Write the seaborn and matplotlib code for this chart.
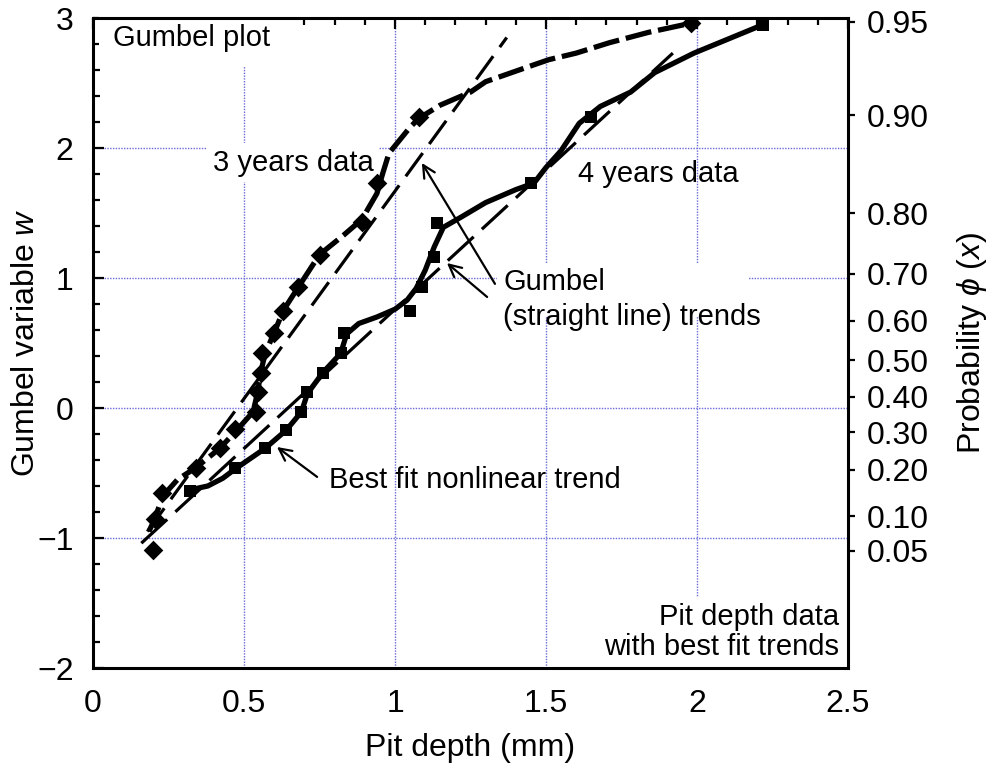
import numpy as np
import matplotlib

matplotlib.use("Agg")
import matplotlib.pyplot as plt
import seaborn as sns
from matplotlib.ticker import FixedLocator, FuncFormatter, MultipleLocator

# 3 years data (diamonds) and its best-fit nonlinear trend
years3_depth = [0.20, 0.205, 0.23, 0.34, 0.42, 0.47, 0.54, 0.545, 0.555,
                0.56, 0.60, 0.63, 0.68, 0.75, 0.89, 0.94, 1.08, 1.98]
years3_w = [-1.09, -0.85, -0.65, -0.46, -0.31, -0.16, -0.03, 0.12, 0.27,
            0.42, 0.58, 0.75, 0.93, 1.18, 1.43, 1.73, 2.24, 2.96]
curve3_depth = [0.185, 0.205, 0.23, 0.28, 0.34, 0.42, 0.48, 0.53, 0.545, 0.555,
                0.57, 0.60, 0.63, 0.68, 0.75, 0.83, 0.89, 0.94, 0.96, 0.98,
                1.05, 1.08, 1.15, 1.25, 1.30, 1.46, 1.51, 1.60, 1.71, 1.84, 1.98]
curve3_w = [-0.95, -0.85, -0.68, -0.55, -0.46, -0.31, -0.16, -0.03, 0.12, 0.27,
            0.42, 0.58, 0.75, 0.93, 1.18, 1.33, 1.45, 1.65, 1.81, 1.96,
            2.16, 2.23, 2.33, 2.43, 2.51, 2.64, 2.68, 2.73, 2.81, 2.89, 2.96]

# 4 years data (squares) and its best-fit nonlinear trend
years4_depth = [0.32, 0.47, 0.57, 0.64, 0.69, 0.71, 0.76, 0.82, 0.83,
                1.05, 1.09, 1.13, 1.14, 1.45, 1.65, 2.22]
years4_w = [-0.64, -0.46, -0.31, -0.17, -0.03, 0.12, 0.27, 0.42, 0.58,
            0.75, 0.93, 1.16, 1.42, 1.73, 2.24, 2.95]
curve4_depth = [0.32, 0.38, 0.43, 0.47, 0.57, 0.64, 0.69, 0.71, 0.76, 0.82,
                0.84, 0.88, 0.94, 1.00, 1.04, 1.07, 1.10, 1.13, 1.16, 1.22,
                1.30, 1.40, 1.46, 1.50, 1.55, 1.61, 1.68, 1.78, 1.86, 1.99, 2.22]
curve4_w = [-0.63, -0.60, -0.54, -0.47, -0.31, -0.17, -0.03, 0.11, 0.27, 0.42,
            0.57, 0.65, 0.70, 0.76, 0.83, 0.92, 1.06, 1.24, 1.39, 1.47,
            1.58, 1.68, 1.73, 1.85, 1.98, 2.19, 2.32, 2.43, 2.58, 2.73, 2.95]

# Gumbel straight-line trends (end points)
gumbel3_depth = [0.18, 1.37]
gumbel3_w = [-0.95, 2.85]
gumbel4_depth = [0.16, 1.92]
gumbel4_w = [-1.04, 2.73]

# right axis probability labels
prob_labels = [0.05, 0.10, 0.20, 0.30, 0.40, 0.50, 0.60, 0.70, 0.80, 0.90, 0.95]

GRID_COLOR = "#6a6ad8"
TICK_SIZE = 23
LABEL_SIZE = 23
NOTE_SIZE = 21

sns.set_theme(style="white")
plt.rcParams["font.family"] = ["Liberation Sans", "DejaVu Sans"]
plt.rcParams["mathtext.fontset"] = "custom"
plt.rcParams["mathtext.rm"] = "Liberation Sans"
plt.rcParams["mathtext.it"] = "Liberation Sans:italic"
plt.rcParams["text.color"] = "black"
plt.rcParams["axes.labelcolor"] = "black"
plt.rcParams["xtick.color"] = "black"
plt.rcParams["ytick.color"] = "black"

fig, ax = plt.subplots(figsize=(9.96, 7.63), dpi=100)
fig.subplots_adjust(left=0.0934, right=0.8514, top=0.9764, bottom=0.1245)

# straight Gumbel trends
sns.lineplot(x=gumbel3_depth, y=gumbel3_w, ax=ax, color="black", lw=2.3,
             linestyle=(0, (9, 3.5)), sort=False, estimator=None, zorder=3)
sns.lineplot(x=gumbel4_depth, y=gumbel4_w, ax=ax, color="black", lw=2.3,
             linestyle=(0, (11, 3.5)), sort=False, estimator=None, zorder=3)

# nonlinear trends
sns.lineplot(x=curve3_depth, y=curve3_w, ax=ax, color="black", lw=3.8,
             linestyle=(0, (5, 1.3)), sort=False, estimator=None, zorder=4)
sns.lineplot(x=curve4_depth, y=curve4_w, ax=ax, color="black", lw=3.8,
             sort=False, estimator=None, zorder=4)

# data points
sns.scatterplot(x=years3_depth, y=years3_w, ax=ax, marker="D", s=100,
                color="black", edgecolor="black", linewidth=0, zorder=5)
sns.scatterplot(x=years4_depth, y=years4_w, ax=ax, marker="s", s=85,
                color="black", edgecolor="black", linewidth=0, zorder=5)

ax.set_xlim(0, 2.5)
ax.set_ylim(-2, 3)
ax.xaxis.set_major_locator(MultipleLocator(0.5))
ax.xaxis.set_minor_locator(MultipleLocator(0.1))
ax.yaxis.set_major_locator(MultipleLocator(1))
ax.yaxis.set_minor_locator(MultipleLocator(0.2))
ax.xaxis.set_major_formatter(FuncFormatter(lambda v, _: f"{v:g}"))
ax.yaxis.set_major_formatter(FuncFormatter(lambda v, _: f"{v:g}".replace("-", "\u2212")))

ax.grid(True, which="major", color=GRID_COLOR, linestyle=(0, (1, 1)), lw=1.0)
ax.set_axisbelow(True)

for spine in ax.spines.values():
    spine.set_linewidth(2.2)
    spine.set_color("black")

ax.tick_params(which="both", direction="in", top=True, right=True,
               labelright=False, color="black", width=1.6)
ax.tick_params(which="major", length=8, labelsize=TICK_SIZE, pad=14)
ax.tick_params(axis="x", which="major", pad=15)
ax.tick_params(which="minor", length=5)

ax.set_xlabel("Pit depth (mm)", fontsize=LABEL_SIZE, labelpad=10)
ax.set_ylabel("Gumbel variable $w$", fontsize=LABEL_SIZE)
ax.yaxis.set_label_coords(-0.069, 0.5)

# right probability axis
ax2 = ax.twinx()
ax2.grid(False)
ax2.set_ylim(-2, 3)
prob_pos = [-np.log(-np.log(p)) for p in prob_labels]
ax2.yaxis.set_major_locator(FixedLocator(prob_pos))
ax2.set_yticklabels([f"{p:.2f}" for p in prob_labels])
ax2.tick_params(axis="y", direction="out", length=5, width=1.6,
                labelsize=TICK_SIZE, pad=8.5, color="black")
for spine in ax2.spines.values():
    spine.set_visible(False)
ax2.set_ylabel("Probability $\\phi$ ($x$)", fontsize=LABEL_SIZE)
ax2.yaxis.set_label_coords(1.142, 0.5)

# text labels with white boxes that hide the grid
white = dict(facecolor="white", edgecolor="none", pad=4)
ax.text(0.066, 2.846, "Gumbel plot", fontsize=NOTE_SIZE, va="center", ha="left",
        bbox=dict(facecolor="white", edgecolor="none", pad=10), zorder=2)
ax.text(0.397, 1.885, "3 years data", fontsize=NOTE_SIZE, va="center", ha="left",
        bbox=white, zorder=2)
ax.text(1.606, 1.80, "4 years data", fontsize=NOTE_SIZE, va="center", ha="left",
        zorder=2)
ax.add_patch(plt.Rectangle((1.338, 0.71), 0.83, 0.40, facecolor="white",
                           edgecolor="none", zorder=1.5))
ax.text(1.358, 0.97, "Gumbel", fontsize=NOTE_SIZE, va="center", ha="left", zorder=2)
ax.text(1.358, 0.70, "(straight line) trends", fontsize=NOTE_SIZE, va="center",
        ha="left", zorder=2)
ax.text(0.781, -0.554, "Best fit nonlinear trend", fontsize=NOTE_SIZE, va="center",
        ha="left", zorder=2)
ax.text(2.47, -1.72, "Pit depth data\nwith best fit trends", fontsize=NOTE_SIZE,
        va="center", ha="right", multialignment="right", linespacing=1.1,
        bbox=white, zorder=2)

arrow = dict(arrowstyle="->", color="black", lw=1.6, mutation_scale=22,
             shrinkA=0, shrinkB=0)
ax.annotate("", xy=(1.089, 1.885), xytext=(1.331, 0.955), arrowprops=arrow,
            zorder=6)
ax.annotate("", xy=(1.172, 1.115), xytext=(1.305, 0.854), arrowprops=arrow,
            zorder=6)
ax.annotate("", xy=(0.609, -0.30), xytext=(0.742, -0.53), arrowprops=arrow,
            zorder=6)

fig.savefig("out.png", dpi=100)
plt.close(fig)
